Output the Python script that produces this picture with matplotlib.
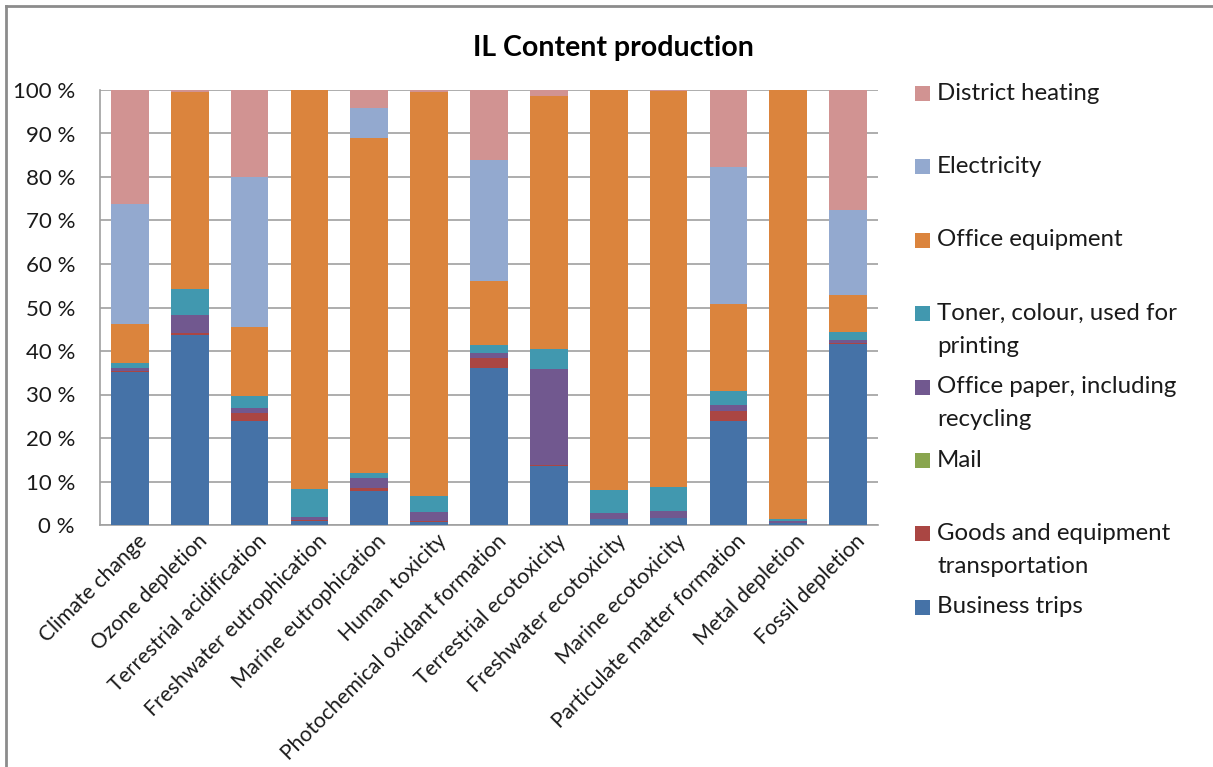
import matplotlib
matplotlib.use("Agg")
import matplotlib.pyplot as plt
from matplotlib.lines import Line2D
from matplotlib.patches import Rectangle
from matplotlib.transforms import ScaledTranslation
import numpy as np

plt.rcParams['font.family'] = ['Lato', 'DejaVu Sans']

categories = [
    "Climate change", "Ozone depletion", "Terrestrial acidification",
    "Freshwater eutrophication", "Marine eutrophication", "Human toxicity",
    "Photochemical oxidant formation", "Terrestrial ecotoxicity",
    "Freshwater ecotoxicity", "Marine ecotoxicity",
    "Particulate matter formation", "Metal depletion", "Fossil depletion",
]

# Shares (%) per impact category, stacked from bottom to top
business_trips = [35.2, 43.7, 23.8, 1.0, 7.8, 0.8, 36.2, 13.6, 1.3, 1.5, 23.8, 0.4, 41.6]
goods_transport = [0.3, 0.4, 1.9, 0.1, 0.6, 0.1, 2.3, 0.1, 0.1, 0.1, 2.3, 0.05, 0.3]
mail = [0.0, 0.0, 0.0, 0.0, 0.0, 0.0, 0.0, 0.0, 0.0, 0.0, 0.0, 0.0, 0.0]
office_paper = [0.6, 4.1, 1.2, 0.8, 2.3, 2.2, 1.1, 22.1, 1.3, 1.7, 1.5, 0.45, 0.6]
toner = [1.1, 6.0, 2.8, 6.3, 1.2, 3.6, 1.8, 4.7, 5.4, 5.4, 3.2, 0.5, 1.9]
office_equipment = [8.9, 45.3, 15.9, 91.8, 77.0, 92.8, 14.8, 58.2, 91.9, 91.1, 20.1, 98.6, 8.5]
electricity = [27.7, 0.0, 34.3, 0.0, 7.0, 0.0, 27.7, 0.0, 0.0, 0.0, 31.3, 0.0, 19.5]
district_heating = [26.2, 0.5, 20.1, 0.0, 4.1, 0.5, 16.1, 1.3, 0.0, 0.2, 17.8, 0.0, 27.6]

series_names = [
    "Business trips", "Goods and equipment\ntransportation", "Mail",
    "Office paper, including\nrecycling", "Toner, colour, used for\nprinting",
    "Office equipment", "Electricity", "District heating",
]
series_values = [business_trips, goods_transport, mail, office_paper, toner,
                 office_equipment, electricity, district_heating]
series_colors = ["#4572A7", "#AA4643", "#89A54E", "#71588F", "#4198AF",
                 "#DB843D", "#93A9CF", "#D19392"]

W, H = 1213, 767
fig = plt.figure(figsize=(W / 100, H / 100), dpi=100)
fig.patch.set_facecolor("white")

ax = fig.add_axes([100 / W, (H - 525) / H, 778 / W, 435 / H])

data = np.array(series_values, dtype=float)
data = data / data.sum(axis=0) * 100.0  # 100 % stacked
x = np.arange(len(categories))
bottom = np.zeros(len(categories))
for vals, col in zip(data, series_colors):
    ax.bar(x, vals, width=0.63, bottom=bottom, color=col, linewidth=0, zorder=3)
    bottom += vals

ax.set_xlim(-0.5, len(categories) - 0.5)
ax.set_ylim(0, 100)
ax.set_yticks(np.arange(0, 101, 10))
ax.set_yticklabels([f"{v} %" for v in range(0, 101, 10)], fontsize=16, color="#1a1a1a")
ax.yaxis.grid(True, color="#a0a0a0", linewidth=1.2, zorder=0)
ax.set_axisbelow(True)
ax.tick_params(axis="y", length=0, pad=18)
ax.tick_params(axis="x", length=0, pad=4)
ax.set_xticks(x)
ax.set_xticklabels(categories, rotation=45, ha="right", rotation_mode="anchor",
                   fontsize=15.2, color="#1a1a1a")
shift = ScaledTranslation(7 / 100, 0, fig.dpi_scale_trans)
for lbl in ax.get_xticklabels():
    lbl.set_transform(lbl.get_transform() + shift)
for side in ("top", "right"):
    ax.spines[side].set_visible(False)
for side in ("left", "bottom"):
    ax.spines[side].set_color("#a0a0a0")
    ax.spines[side].set_linewidth(1.2)

fig.text(613 / W, 1 - 48 / H, "IL Content production", ha="center", va="center",
         fontsize=20.5, fontweight="bold", color="#000000")

# Legend, evenly spaced entries on the right
legend_order = list(range(len(series_names)))[::-1]
y0, step = 93, 73.4
for i, idx in enumerate(legend_order):
    yc = y0 + i * step
    fig.patches.append(Rectangle((915 / W, 1 - (yc + 8) / H), 15 / W, 15 / H,
                                 transform=fig.transFigure, facecolor=series_colors[idx],
                                 edgecolor="none"))
    for j, line in enumerate(series_names[idx].split("\n")):
        fig.text(937 / W, 1 - (yc + j * 33) / H, line, ha="left", va="center",
                 fontsize=17.3, color="#1a1a1a")

# Chart area frame
fig.add_artist(Line2D([6 / W, 6 / W], [0, 1 - 6 / H], transform=fig.transFigure,
                      color="#8c8c8c", linewidth=2))
fig.add_artist(Line2D([6 / W, 1], [1 - 6 / H, 1 - 6 / H], transform=fig.transFigure,
                      color="#8c8c8c", linewidth=2))

fig.savefig("out.png", dpi=100)
